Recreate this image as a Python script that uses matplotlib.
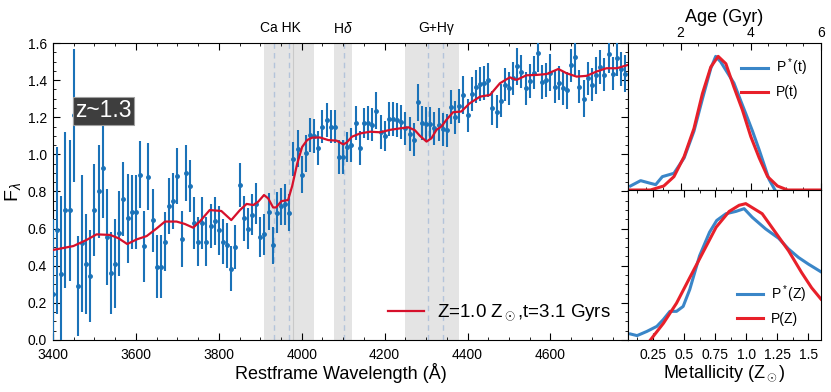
import matplotlib
matplotlib.use('Agg')
import matplotlib.pyplot as plt
import numpy as np
from matplotlib.ticker import MultipleLocator
import matplotlib.transforms as mtransforms

plt.rcParams['font.family'] = ['Liberation Sans', 'DejaVu Sans']
plt.rcParams['mathtext.fontset'] = 'custom'
plt.rcParams['mathtext.rm'] = 'Liberation Sans'
plt.rcParams['mathtext.it'] = 'Liberation Sans:italic'

# observed spectrum, 10 A bins from 3400 A
wave = np.arange(3400, 4790, 10)
flux = [
    0.25, 0.59, 0.355, 0.70, 0.70, 1.21, 0.29, 0.52, 0.41, 0.345,
    0.70, 0.80, 0.925, 0.555, 0.36, 0.41, 0.575, 0.76, 0.655, 0.69,
    0.69, 0.89, 0.505, 0.88, 0.645, 0.395, 0.395, 0.53, 0.72, 0.75,
    0.885, 0.545, 0.90, 0.83, 0.63, 0.53, 0.63, 0.53, 0.615, 0.64,
    0.59, 0.53, 0.51, 0.385, 0.50, 0.835, 0.655, 0.60, 0.675, 0.735,
    0.555, 0.57, 0.69, 0.51, 0.685, 0.72, 0.73, 0.685, 0.975, 1.03,
    0.89, 1.005, 1.105, 1.10, 1.035, 1.15, 1.185, 1.15, 1.15, 0.985,
    0.985, 1.04, 1.05, 1.17, 1.035, 1.17, 1.17, 1.16, 1.235, 1.12,
    1.10, 1.19, 1.19, 1.185, 1.175, 1.14, 1.11, 1.08, 1.28, 1.17,
    1.165, 1.165, 1.14, 1.16, 1.135, 1.13, 1.255, 1.20, 1.26, 1.32,
    1.21, 1.325, 1.365, 1.38, 1.385, 1.40, 1.25, 1.23, 1.29, 1.375,
    1.355, 1.41, 1.475, 1.445, 1.355, 1.395, 1.44, 1.545, 1.39, 1.40,
    1.44, 1.365, 1.385, 1.355, 1.345, 1.48, 1.525, 1.365, 1.30, 1.41,
    1.375, 1.425, 1.47, 1.43, 1.54, 1.435, 1.52, 1.46, 1.435,
]
flux_err = [
    0.40, 0.45, 0.42, 0.42, 0.38, 0.36, 0.27, 0.37, 0.27, 0.25,
    0.25, 0.25, 0.27, 0.26, 0.22, 0.24, 0.23, 0.20, 0.24, 0.20,
    0.20, 0.18, 0.19, 0.18, 0.17, 0.17, 0.17, 0.16, 0.15, 0.15,
    0.15, 0.15, 0.15, 0.14, 0.14, 0.13, 0.14, 0.13, 0.12, 0.13,
    0.13, 0.12, 0.12, 0.12, 0.12, 0.12, 0.12, 0.11, 0.11, 0.11,
    0.11, 0.11, 0.10, 0.10, 0.11, 0.10, 0.11, 0.10, 0.09, 0.10,
    0.10, 0.10, 0.09, 0.09, 0.09, 0.09, 0.09, 0.09, 0.09, 0.09,
    0.09, 0.08, 0.09, 0.09, 0.09, 0.08, 0.09, 0.09, 0.10, 0.09,
    0.08, 0.09, 0.09, 0.09, 0.09, 0.09, 0.09, 0.09, 0.10, 0.09,
    0.09, 0.09, 0.09, 0.09, 0.09, 0.09, 0.09, 0.09, 0.09, 0.10,
    0.09, 0.09, 0.09, 0.09, 0.09, 0.09, 0.09, 0.09, 0.09, 0.09,
    0.09, 0.09, 0.10, 0.09, 0.09, 0.09, 0.09, 0.10, 0.09, 0.09,
    0.10, 0.09, 0.09, 0.09, 0.10, 0.09, 0.10, 0.09, 0.10, 0.09,
    0.09, 0.10, 0.09, 0.09, 0.10, 0.09, 0.10, 0.09, 0.10,
]

# best-fit model spectrum
model_wave = [
    3400, 3449, 3481, 3505, 3538, 3558, 3579, 3602, 3626, 3650,
    3670, 3698, 3718, 3738, 3754, 3778, 3806, 3830, 3851, 3867,
    3883, 3895, 3909, 3919, 3931, 3938, 3951, 3967, 3977, 3989,
    4001, 4013, 4025, 4044, 4064, 4084, 4100, 4108, 4121, 4141,
    4165, 4189, 4213, 4237, 4257, 4273, 4285, 4301, 4313, 4325,
    4337, 4349, 4365, 4385, 4405, 4430, 4454, 4478, 4502, 4518,
    4542, 4567, 4591, 4619, 4639, 4663, 4687, 4711, 4735, 4760, 4787,
]
model_flux = [
    0.485, 0.506, 0.539, 0.569, 0.566, 0.548, 0.517, 0.542, 0.56, 0.601,
    0.638, 0.638, 0.625, 0.605, 0.638, 0.70, 0.695, 0.646, 0.70, 0.733,
    0.727, 0.745, 0.781, 0.763, 0.714, 0.714, 0.748, 0.754, 0.83, 0.95,
    1.04, 1.077, 1.09, 1.091, 1.077, 1.074, 1.054, 1.063, 1.095, 1.113,
    1.122, 1.119, 1.132, 1.14, 1.146, 1.13, 1.10, 1.069, 1.087, 1.132,
    1.15, 1.186, 1.227, 1.231, 1.275, 1.311, 1.32, 1.383, 1.415, 1.401,
    1.426, 1.428, 1.433, 1.46, 1.437, 1.419, 1.423, 1.446, 1.464, 1.464, 1.482,
]

# spectral feature windows
bands = [(3910, 4030), (4078, 4121), (4249, 4379)]
line_centres = [3934, 3969, 4102, 4305, 4341]
band_names = ['Ca HK', r'H$\delta$', 'G+H\u03b3']
band_name_pos = [3949, 4100, 4324]

# posterior distributions
age_star = [0.57, 0.86, 1.14, 1.29, 1.48, 1.81, 2.1, 2.38, 2.62, 2.86, 3.0, 3.14,
            3.33, 3.52, 3.71, 3.86, 4.05, 4.24, 4.38, 4.52, 4.69]
pt_star = [0.03, 0.07, 0.05, 0.04, 0.10, 0.125, 0.24, 0.44, 0.68, 0.91, 1.0, 0.96,
           0.88, 0.80, 0.67, 0.57, 0.44, 0.30, 0.19, 0.08, 0.0]
age_fit = [0.5, 1.14, 1.52, 1.81, 2.1, 2.38, 2.62, 2.86, 3.07, 3.29, 3.52, 3.76,
           4.0, 4.24, 4.48, 4.76, 5.05, 6.0]
pt_fit = [0.0, 0.0, 0.03, 0.10, 0.25, 0.46, 0.72, 0.92, 1.0, 0.945, 0.77, 0.60,
          0.40, 0.24, 0.10, 0.03, 0.0, 0.0]

z_star = [0.07, 0.123, 0.202, 0.282, 0.334, 0.387, 0.44, 0.493, 0.546, 0.625, 0.705,
          0.763, 0.837, 0.917, 0.983, 1.048, 1.155, 1.26, 1.34, 1.42, 1.5, 1.6]
pz_star = [0.044, 0.032, 0.063, 0.10, 0.15, 0.21, 0.21, 0.246, 0.37, 0.617, 0.79,
           0.877, 0.926, 0.943, 0.963, 0.90, 0.815, 0.746, 0.667, 0.605, 0.556, 0.50]
z_fit = [0.23, 0.335, 0.44, 0.546, 0.652, 0.758, 0.863, 0.943, 0.996, 1.128, 1.234,
         1.34, 1.445, 1.525, 1.6]
pz_fit = [0.0, 0.123, 0.27, 0.457, 0.642, 0.827, 0.943, 0.988, 1.0, 0.926, 0.79,
          0.654, 0.494, 0.383, 0.30]

blue = '#1a72b8'
red = '#d6102b'
blue2 = '#3a86c8'
red2 = '#e8202a'

fig = plt.figure(figsize=(8.31, 3.92), dpi=100)
ax = fig.add_axes([0.0638, 0.1327, 0.6919, 0.7576])
axt = fig.add_axes([0.7557, 0.5153, 0.2322, 0.3750])
axb = fig.add_axes([0.7557, 0.1327, 0.2322, 0.3826])

# main spectrum panel
for lo, hi in bands:
    ax.axvspan(lo, hi, color='#e4e4e4', lw=0, zorder=0)
ax.axvline(3979, color='#c9c9c9', lw=0.8, zorder=0.5)
for lc in line_centres:
    ax.axvline(lc, color='#b4c4da', lw=1.0, ls=(0, (4, 3)), zorder=0.5)

trans = mtransforms.blended_transform_factory(ax.transData, ax.transAxes)
for name, pos in zip(band_names, band_name_pos):
    ax.text(pos, 1.05, name, transform=trans, ha='center', va='center', fontsize=10)

ax.errorbar(wave, flux, yerr=flux_err, fmt='o', ms=2.5, color=blue, ecolor=blue,
            elinewidth=1.5, capsize=0, zorder=3)
ax.plot(model_wave, model_flux, color=red, lw=1.6, zorder=4,
        label=r'Z=1.0 Z$_\odot$,t=3.1 Gyrs')

ax.text(3521, 1.234, 'z~1.3', color='white', fontsize=16.5, ha='center', va='center',
        zorder=6, bbox=dict(boxstyle='square,pad=0.1', facecolor='#3e3e3e',
                            edgecolor='#a0a0a0', lw=0.8))

ax.set_xlim(3400, 4787)
ax.set_ylim(0, 1.6)
ax.xaxis.set_major_locator(MultipleLocator(200))
ax.xaxis.set_minor_locator(MultipleLocator(50))
ax.yaxis.set_major_locator(MultipleLocator(0.2))
ax.yaxis.set_minor_locator(MultipleLocator(0.05))
ax.yaxis.set_major_formatter(plt.FuncFormatter(lambda v, p: '%.1f' % v))
ax.tick_params(which='both', direction='in', top=True, right=True, labelsize=10)
ax.tick_params(which='major', length=5)
ax.tick_params(which='minor', length=2.5)
ax.tick_params(axis='x', pad=5.5)
ax.tick_params(axis='y', pad=4.5)
ax.set_xlabel('Restframe Wavelength (Å)', fontsize=13, labelpad=1)
ax.set_ylabel(r'F$_\lambda$', fontsize=14, labelpad=3)
ax.legend(loc='lower right', frameon=False, fontsize=13.5, handlelength=1.95,
          handletextpad=0.7)

# age posterior
axt.plot(age_star, pt_star, color=blue2, lw=2.2, label=r'P$^*$(t)')
axt.plot(age_fit, pt_fit, color=red2, lw=2.2, label='P(t)')
axt.set_xlim(0.5, 6)
axt.set_ylim(0, 1.1)
axt.xaxis.tick_top()
axt.xaxis.set_label_position('top')
axt.set_xticks([2, 4, 6])
axt.xaxis.set_minor_locator(MultipleLocator(0.5))
axt.set_yticks([])
axt.tick_params(which='both', direction='in', top=True, bottom=True,
                labeltop=True, labelbottom=False, labelsize=10, pad=2)
axt.tick_params(which='major', length=5)
axt.tick_params(which='minor', length=2.5)
axt.set_xlabel('Age (Gyr)', fontsize=13, labelpad=3)
axt.legend(loc='upper right', frameon=False, fontsize=10, handlelength=1.9,
           handletextpad=0.6, borderaxespad=0.6)

# metallicity posterior
axb.plot(z_star, pz_star, color=blue2, lw=2.2, label=r'P$^*$(Z)')
axb.plot(z_fit, pz_fit, color=red2, lw=2.2, label='P(Z)')
axb.set_xlim(0.05, 1.6)
axb.set_ylim(0, 1.1)
axb.set_xticks([0.25, 0.5, 0.75, 1.0, 1.25, 1.5])
axb.set_xticklabels(['0.25', '0.5', '0.75', '1.0', '1.25', '1.5'])
axb.xaxis.set_minor_locator(MultipleLocator(0.125))
axb.set_yticks([])
axb.tick_params(which='both', direction='in', top=True, bottom=True, labelsize=10)
axb.tick_params(which='major', length=5)
axb.tick_params(which='minor', length=2.5)
axb.tick_params(axis='x', pad=5.5)
axb.set_xlabel(r'Metallicity (Z$_\odot$)', fontsize=13, labelpad=1)
axb.legend(loc='lower right', frameon=False, fontsize=10, handlelength=1.9,
           handletextpad=0.6, borderaxespad=0.6)

fig.savefig('out.png', dpi=100)
